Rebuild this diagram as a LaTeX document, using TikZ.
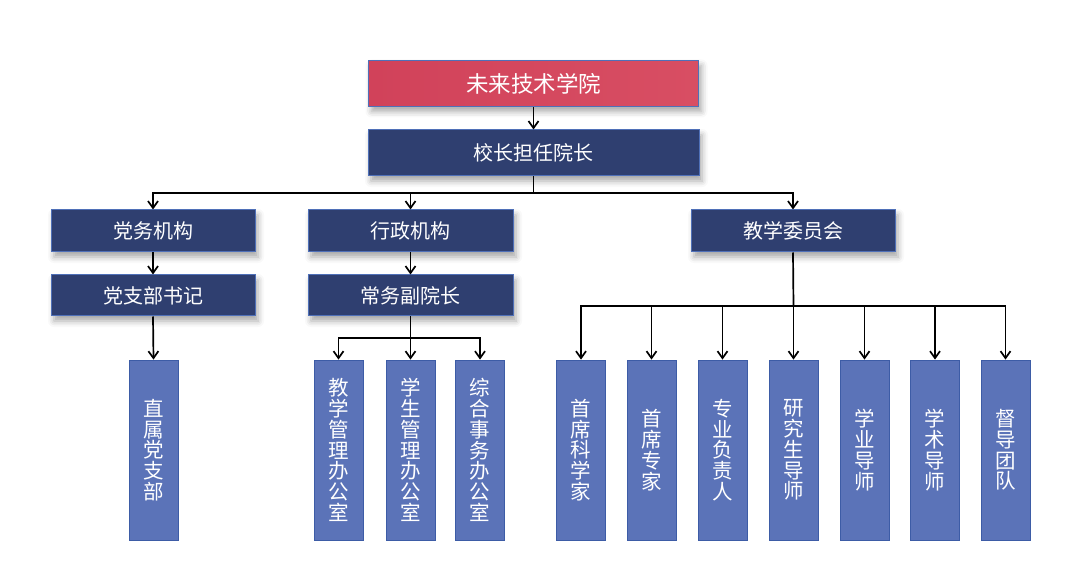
\documentclass[tikz,border=0pt]{standalone}
\usepackage{fontspec}
\setmainfont{Noto Sans CJK SC}
\usetikzlibrary{arrows.meta,shadows.blur}
\definecolor{navy}{HTML}{2F3F70}
\definecolor{navyedge}{HTML}{4F70B8}
\definecolor{vblue}{HTML}{5B73B8}
\definecolor{vedge}{HTML}{3D5CA6}
\definecolor{redL}{HTML}{D1425A}
\definecolor{redR}{HTML}{D84E63}
\tikzset{
  hbox/.style={draw=navyedge, line width=1pt, fill=navy, text=white,
    inner sep=0pt, font={\fontsize{20}{23}\selectfont},
    blur shadow={shadow xshift=3pt, shadow yshift=-5pt, shadow blur radius=6pt, shadow opacity=35}},
  topbox/.style={hbox, fill=none, left color=redL, right color=redR,
    font={\fontsize{22.5}{25}\selectfont}},
  vbox/.style={draw=vedge, line width=0.8pt, fill=vblue, text=white,
    inner sep=0pt, minimum width=49pt, minimum height=180pt, align=center,
    font={\fontsize{20.5}{20.8}\selectfont}},
  arr/.style={draw=black, line width=1.7pt, -{Straight Barb[length=7pt,width=10pt,line width=1.7pt]}},
  ln/.style={draw=black, line width=1.7pt}
}
\begin{document}
\begin{tikzpicture}[x=1pt,y=-1pt]
\useasboundingbox (0,0) rectangle (1080,588);
% top levels
\node[topbox, minimum width=330pt, minimum height=46pt] (top) at (533.5,83.5) {未来技术学院};
\node[hbox, minimum width=331pt, minimum height=46pt] (pres) at (533.5,153) {校长担任院长};
% second row
\node[hbox, minimum width=204pt, minimum height=42pt] (party) at (153,231) {党务机构};
\node[hbox, minimum width=205pt, minimum height=42pt] (admin) at (410.5,231) {行政机构};
\node[hbox, minimum width=204pt, minimum height=42pt] (teach) at (793,231) {教学委员会};
% third row
\node[hbox, minimum width=204pt, minimum height=41pt] (sec) at (153,295.5) {党支部书记};
\node[hbox, minimum width=205pt, minimum height=41pt] (vice) at (410.5,295.5) {常务副院长};
% vertical boxes
\node[vbox] (p1) at (153.5,450) {直\\属\\党\\支\\部};
\node[vbox] (a1) at (338.5,450) {教\\学\\管\\理\\办\\公\\室};
\node[vbox] (a2) at (410.5,450) {学\\生\\管\\理\\办\\公\\室};
\node[vbox] (a3) at (480,450) {综\\合\\事\\务\\办\\公\\室};
\node[vbox] (t1) at (581,450) {首\\席\\科\\学\\家};
\node[vbox] (t2) at (651.5,450) {首\\席\\专\\家};
\node[vbox] (t3) at (722.5,450) {专\\业\\负\\责\\人};
\node[vbox] (t4) at (793.5,450) {研\\究\\生\\导\\师};
\node[vbox] (t5) at (864.5,450) {学\\业\\导\\师};
\node[vbox] (t6) at (935,450) {学\\术\\导\\师};
\node[vbox] (t7) at (1005.5,450) {督\\导\\团\\队};
% branch points
\coordinate (b1) at (533.5,193);
\coordinate (b2) at (410.5,338);
\coordinate (b3) at (793.5,306);
% connectors
\draw[arr] (top.south) -- (pres.north);
\draw[ln] (pres.south) -- (b1);
\draw[arr] (b1) -| (party.north);
\draw[arr] (b1) -| (admin.north);
\draw[arr] (b1) -| (teach.north);
\draw[arr] (party.south) -- (sec.north);
\draw[arr] (admin.south) -- (vice.north);
\draw[arr] (sec.south) -- (p1.north);
\draw[ln] (vice.south) -- (b2);
\draw[arr] (b2) -| (a1.north);
\draw[arr] (b2) -- (a2.north);
\draw[arr] (b2) -| (a3.north);
\draw[ln] (teach.south) -- (b3);
\draw[arr] (b3) -| (t1.north);
\draw[arr] (b3) -| (t2.north);
\draw[arr] (b3) -| (t3.north);
\draw[arr] (b3) -- (t4.north);
\draw[arr] (b3) -| (t5.north);
\draw[arr] (b3) -| (t6.north);
\draw[arr] (b3) -| (t7.north);
\end{tikzpicture}
\end{document}
